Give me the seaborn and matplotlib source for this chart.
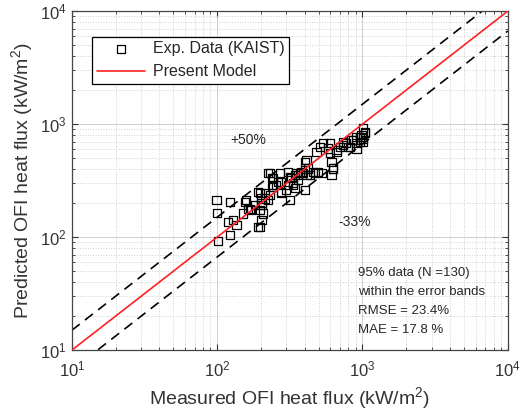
import numpy as np
import pandas as pd
import seaborn as sns
import matplotlib
matplotlib.use("Agg")
import matplotlib.pyplot as plt

# measured vs predicted OFI heat flux (kW/m2)
measured = [99, 122, 100, 102, 122, 129, 136, 151, 155, 168, 172, 197, 202, 202,
            197, 202, 197, 213, 224, 231, 224, 237, 243, 270, 263, 277, 300, 308,
            316, 316, 333, 343, 361, 371, 401, 391, 412, 423, 434, 458, 496, 523,
            483, 509, 537, 581, 597, 613, 629, 663, 699, 736, 776, 818, 863, 910,
            960, 986, 1012, 1040, 1012, 910, 119, 159, 163, 182, 191, 202, 207, 191,
            213, 231, 243, 256, 237, 277, 308, 325, 343, 361, 381, 277, 352, 401,
            401, 412, 470, 597, 663, 736, 798, 841, 910, 960, 1040, 1012, 629, 613,
            333]
predicted = [212, 205, 164, 92, 104, 141, 128, 162, 205, 179, 173, 244, 220, 199,
             173, 141, 123, 220, 212, 235, 367, 331, 288, 367, 308, 244, 261, 379,
             342, 212, 299, 354, 319, 367, 261, 367, 480, 405, 354, 379, 379, 367,
             569, 630, 675, 609, 675, 463, 405, 569, 630, 697, 675, 630, 721, 609,
             697, 800, 916, 828, 697, 773, 136, 212, 179, 192, 252, 192, 162, 123,
             244, 367, 331, 288, 279, 252, 288, 331, 270, 354, 379, 308, 367, 463,
             405, 354, 367, 551, 589, 652, 630, 721, 675, 773, 855, 747, 405, 354,
             288]

x_lim = [10, 1e4]
band_hi = 1.5
band_lo = 1 / 1.5

df = pd.DataFrame({"measured": measured, "predicted": predicted})

sns.set_style("ticks")
plt.rcParams["font.family"] = ["Liberation Sans", "DejaVu Sans"]
plt.rcParams["mathtext.default"] = "regular"

fig = plt.figure(figsize=(5.24, 4.12), dpi=100)
ax = fig.add_axes([0.137, 0.150, 0.832, 0.823])

line = np.array(x_lim)
ax.plot(line, line * band_hi, color="black", ls=(0, (6, 4)), lw=1.2, zorder=2)
ax.plot(line, line * band_lo, color="black", ls=(0, (6, 4)), lw=1.2, zorder=2)
sns.scatterplot(data=df, x="measured", y="predicted", marker="s", s=34,
                facecolor="none", edgecolor="black", linewidth=0.9,
                label="Exp. Data (KAIST)", ax=ax, zorder=3)
ax.plot(line, line, color="#ff2020", lw=1.2, label="Present Model", zorder=4)

ax.set_xscale("log")
ax.set_yscale("log")
ax.set_xlim(x_lim)
ax.set_ylim(x_lim)

ax.grid(which="major", color="#d0d0d0", lw=0.7, ls="-")
ax.grid(which="minor", color="#d0d0d0", lw=0.7, ls=":")
ax.set_axisbelow(True)
ax.tick_params(which="both", direction="in", top=True, right=True,
               color="#333333", labelcolor="#333333", labelsize=12)
ax.tick_params(which="major", length=4)
ax.tick_params(which="minor", length=2)
ax.tick_params(axis="x", which="major", pad=7)
for sp in ax.spines.values():
    sp.set_color("#444444")
    sp.set_linewidth(0.9)

ax.set_xlabel("Measured OFI heat flux (kW/m$^2$)", fontsize=14, color="#333333")
ax.set_ylabel("Predicted OFI heat flux (kW/m$^2$)", fontsize=14, color="#333333")

ax.text(163, 721, "+50%", fontsize=10, ha="center", va="center")
ax.text(887, 136, "-33%", fontsize=10, ha="center", va="center")
ax.text(930, 54, "95% data (N =130)\nwithin the error bands\nRMSE = 23.4%\nMAE = 17.8 %",
        fontsize=9.5, ha="left", va="top", linespacing=1.75)

leg = ax.legend(loc="upper left", bbox_to_anchor=(0.046, 0.925), fontsize=11.5,
                fancybox=False, framealpha=1, edgecolor="black", borderaxespad=0,
                borderpad=0.3, handlelength=3.0, handletextpad=0.5)
leg.get_frame().set_linewidth(0.9)

plt.savefig("out.png", dpi=100)
plt.close()
